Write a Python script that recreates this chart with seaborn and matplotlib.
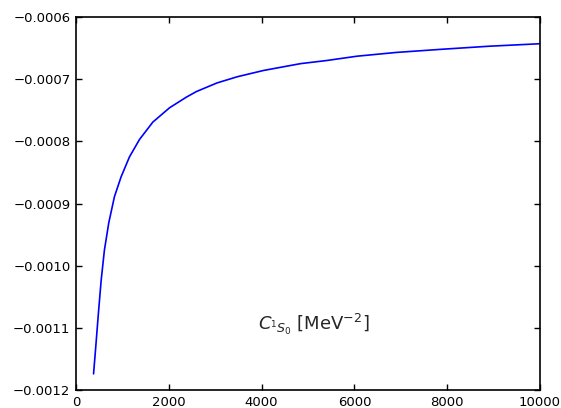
import matplotlib
matplotlib.use("Agg")
import matplotlib.pyplot as plt
import seaborn as sns
import pandas as pd

# cutoff values (MeV) and the corresponding contact coupling
cutoff = [378, 425, 482, 542, 612, 706, 828, 972, 1152, 1368, 1656, 2016,
          2376, 2592, 3040, 3480, 3760, 4040, 4620, 4840, 5400, 6060, 6900,
          7860, 8900, 9990]
coupling = [-0.001174, -0.001131, -0.001077, -0.0010235, -0.000975,
            -0.000931, -0.000889, -0.000857, -0.000825, -0.000797, -0.000769,
            -0.000746, -0.000729, -0.00072, -0.000706, -0.000696, -0.000691,
            -0.000686, -0.000678, -0.000675, -0.00067, -0.000663, -0.000657,
            -0.000652, -0.000647, -0.000643]

x_ticks = [0, 2000, 4000, 6000, 8000, 10000]
y_ticks = [-0.0012, -0.0011, -0.0010, -0.0009, -0.0008, -0.0007, -0.0006]

sns.set_theme(style="ticks")
plt.rcParams.update({
    "font.family": ["DejaVu Sans"],
    "xtick.direction": "in",
    "ytick.direction": "in",
    "xtick.top": True,
    "ytick.right": True,
    "xtick.major.size": 4,
    "ytick.major.size": 4,
    "xtick.major.width": 1,
    "ytick.major.width": 1,
    "axes.linewidth": 1.2,
    "axes.edgecolor": "black",
    "xtick.color": "black",
    "ytick.color": "black",
    "xtick.labelsize": 9.5,
    "ytick.labelsize": 9.5,
})

df = pd.DataFrame({"cutoff": cutoff, "coupling": coupling})

fig = plt.figure(figsize=(5.61, 4.08), dpi=100)
ax = fig.add_axes([0.1355, 0.0441, 0.8271, 0.9142])
sns.lineplot(data=df, x="cutoff", y="coupling", color="blue", linewidth=1.2,
             ax=ax, sort=True)

ax.set_xlim(0, 10000)
ax.set_ylim(-0.0012, -0.0006)
ax.set_xticks(x_ticks)
ax.set_xticklabels([str(t) for t in x_ticks])
ax.set_yticks(y_ticks)
ax.set_yticklabels([f"{t:.4f}".replace("-", "\u2212") for t in y_ticks])
ax.set_xlabel("")
ax.set_ylabel("")
ax.tick_params(pad=4)

ax.text(3920, -0.001095, r"$C_{^1S_0}$ [MeV$^{-2}$]", fontsize=13,
        ha="left", va="center")

fig.savefig("out.png", dpi=100, facecolor="white")
